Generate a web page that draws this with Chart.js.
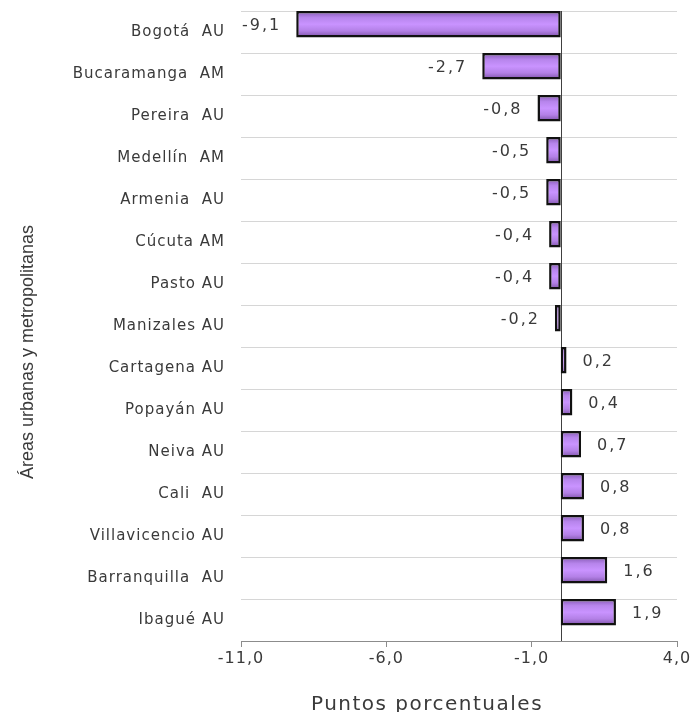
<!DOCTYPE html>
<html lang="es">
<head>
<meta charset="utf-8">
<title>Áreas urbanas y metropolitanas</title>
<script src="https://cdn.jsdelivr.net/npm/chart.js@4.4.1/dist/chart.umd.min.js"></script>
<style>
  html, body { margin: 0; padding: 0; background: #fff; overflow: hidden; }
  #wrap { position: relative; width: 691px; height: 712px; }
</style>
</head>
<body>
<div id="wrap"><canvas id="chart"></canvas></div>
<script>
// datos
const areas = [
  "Bogotá  AU",
  "Bucaramanga  AM",
  "Pereira  AU",
  "Medellín  AM",
  "Armenia  AU",
  "Cúcuta AM",
  "Pasto AU",
  "Manizales AU",
  "Cartagena AU",
  "Popayán AU",
  "Neiva AU",
  "Cali  AU",
  "Villavicencio AU",
  "Barranquilla  AU",
  "Ibagué AU",
];
const puntos = [-9.1, -2.7, -0.8, -0.5, -0.5, -0.4, -0.4, -0.2, 0.2, 0.4, 0.7, 0.8, 0.8, 1.6, 1.9];
const xTicks = [-11, -6, -1, 4];
const xTitle = "Puntos porcentuales";
const yTitle = "Áreas urbanas y metropolitanas";

const FONT = "'DejaVu Sans', sans-serif";
const FONT_Y = "'Liberation Sans', Arial, sans-serif";
const TEXT = "#3a3a3a";
const fmt = (v) => v.toFixed(1).replace(".", ",");

// el texto del original se ve un poco "estirado"
const spacing = {
  id: "spacing",
  beforeLayout(chart) { chart.ctx.letterSpacing = "1px"; },
  beforeDraw(chart) { chart.ctx.letterSpacing = "1px"; },
};

// linea vertical en cero + degradado de cada barra
const barShade = {
  id: "barShade",
  beforeDatasetsDraw(chart) {
    const { ctx, chartArea } = chart;
    const x0 = Math.round(chart.scales.x.getPixelForValue(0)) + 0.5;
    ctx.save();
    ctx.strokeStyle = "#404040";
    ctx.lineWidth = 1;
    ctx.beginPath();
    ctx.moveTo(x0, chartArea.top);
    ctx.lineTo(x0, chartArea.bottom);
    ctx.stroke();
    ctx.restore();

    chart.getDatasetMeta(0).data.forEach((bar) => {
      const top = bar.y - bar.height / 2;
      const g = ctx.createLinearGradient(0, top, 0, top + bar.height);
      g.addColorStop(0, "#8558b4");
      g.addColorStop(0.25, "#b785ec");
      g.addColorStop(0.5, "#c993ff");
      g.addColorStop(0.75, "#b380e6");
      g.addColorStop(1, "#7a50a4");
      bar.options.backgroundColor = g;
    });
  },
};

// etiquetas de valor
const valueLabels = {
  id: "valueLabels",
  afterDatasetsDraw(chart) {
    const ctx = chart.ctx;
    ctx.save();
    ctx.letterSpacing = "2px";
    ctx.font = `16px ${FONT}`;
    ctx.fillStyle = TEXT;
    ctx.textBaseline = "middle";
    chart.getDatasetMeta(0).data.forEach((bar, i) => {
      const v = puntos[i];
      ctx.textAlign = v < 0 ? "right" : "left";
      ctx.fillText(fmt(v), v < 0 ? bar.x - 15 : bar.x + 16, bar.y + 1.5);
    });
    ctx.restore();
  },
};

// titulos de los ejes (posicion como en el original)
const axisTitles = {
  id: "axisTitles",
  afterDraw(chart) {
    const { ctx, chartArea } = chart;
    ctx.save();
    ctx.fillStyle = TEXT;
    ctx.letterSpacing = "1.5px";
    ctx.font = `20px ${FONT}`;
    ctx.textAlign = "center";
    ctx.textBaseline = "alphabetic";
    ctx.fillText(xTitle, chartArea.left + 186, 710);

    ctx.letterSpacing = "0px";
    ctx.font = `18px ${FONT_Y}`;
    ctx.translate(33, (chartArea.top + chartArea.bottom) / 2 + 26);
    ctx.rotate(-Math.PI / 2);
    ctx.fillText(yTitle, 0, 0);
    ctx.restore();
  },
};

new Chart(document.getElementById("chart"), {
  type: "bar",
  data: {
    labels: areas,
    datasets: [
      {
        data: puntos,
        backgroundColor: () => "#c08cf8",
        borderColor: "#111",
        borderWidth: 2.5,
        borderSkipped: false,
        categoryPercentage: 0.738,
        barPercentage: 1.71,
      },
      {
        // hueco: empuja la barra hacia la parte alta de cada franja
        data: areas.map(() => null),
        categoryPercentage: 0.738,
        barPercentage: 1.71,
      },
    ],
  },
  options: {
    indexAxis: "y",
    responsive: true,
    maintainAspectRatio: false,
    animation: false,
    layout: { padding: { top: 11, right: 14, left: 0, bottom: 0 } },
    plugins: {
      legend: { display: false },
      tooltip: { enabled: false },
    },
    scales: {
      x: {
        type: "linear",
        min: -11,
        max: 4,
        afterBuildTicks: (scale) => {
          scale.ticks = xTicks.map((v) => ({ value: v }));
        },
        afterFit: (scale) => {
          scale.height = 71;
          scale.paddingLeft = 0;
          scale.paddingRight = 0;
        },
        grid: { drawOnChartArea: false, drawTicks: true, tickLength: 6, color: "#8c8c8c" },
        border: { color: "#8c8c8c" },
        ticks: {
          padding: 2,
          color: TEXT,
          font: { family: FONT, size: 16 },
          callback: (v) => fmt(v),
        },
      },
      y: {
        offset: true,
        grid: { offset: true, drawTicks: false, color: "#d6d6d6" },
        border: { display: false },
        afterFit: (scale) => {
          scale.width = 241;
          scale.paddingTop = 0;
          scale.paddingBottom = 0;
        },
        ticks: {
          padding: 16,
          autoSkip: false,
          color: TEXT,
          font: { family: FONT, size: 15 },
        },
      },
    },
  },
  plugins: [spacing, barShade, valueLabels, axisTitles],
});
</script>
</body>
</html>
